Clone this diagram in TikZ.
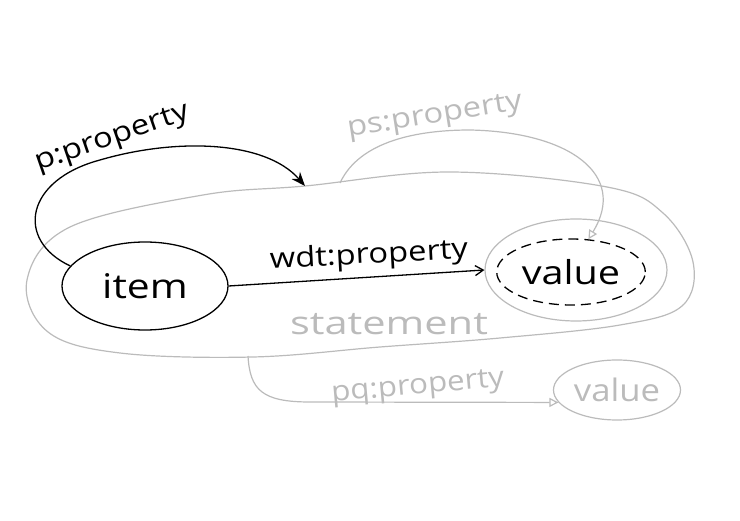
\documentclass[tikz,border=0pt]{standalone}
\usepackage{fontspec}
\usepackage{graphicx}
\setmainfont{Open Sans}
\usetikzlibrary{arrows.meta,shapes.geometric}
\definecolor{pale}{HTML}{BBBBBB}
\newcommand{\wide}[2]{\scalebox{#1}[1]{#2}}
\tikzset{
  ink/.style={line width=1.3pt,black},
  faint/.style={line width=1.2pt,pale},
  itemnode/.style={ellipse,draw,ink,minimum width=166pt,minimum height=88pt,font=\fontsize{34}{38}\selectfont},
  dashnode/.style={ellipse,draw,ink,dashed,dash pattern=on 10pt off 6pt,minimum width=137pt,minimum height=66pt,font=\fontsize{33}{37}\selectfont},
  ringnode/.style={ellipse,draw,faint,minimum width=182pt,minimum height=102pt},
  greyval/.style={ellipse,draw,faint,inner sep=0pt,minimum width=127pt,minimum height=60pt,text=pale,font=\fontsize{31}{35}\selectfont},
  lbl/.style={font=\fontsize{28}{32}\selectfont,inner sep=1pt},
  glbl/.style={lbl,text=pale},
  openhead/.style={-{Triangle[open,length=9pt,width=9pt]}},
  linehead/.style={-{Straight Barb[length=8pt,width=10pt]}},
  solidhead/.style={-{Stealth[length=14pt,width=11pt]}}
}
\begin{document}
\begin{tikzpicture}[x=1pt,y=-1pt]
\useasboundingbox (0,0) rectangle (740,521);
% statement blob
\draw[faint] plot[smooth cycle,tension=0.6] coordinates {(27,280) (70,227) (203,195) (305,186) (450,172) (607,187) (663,213) (693,262) (682,306) (620,325) (500,338) (380,347) (253,357) (120,353) (48,332)};
\coordinate (pTip) at (305,186);
\coordinate (psStart) at (340,183);
\coordinate (pqStart) at (248,356);
\node[text=pale,font=\fontsize{32}{36}\selectfont] (stmt) at (389,324) {\wide{1.3}{statement}};
% nodes
\node[itemnode] (item) at (145,286) {\wide{1.2}{item}};
\node[ringnode] (ring) at (576,270) {};
\node[dashnode] (val) at (571,272) {\wide{1.2}{value}};
\node[greyval] (val2) at (617,390) {\wide{1.12}{value}};
% p:property
\draw[ink,solidhead] (item.165) .. controls (15,240) and (25,180) .. (100,160) .. controls (175,138) and (265,140) .. (pTip);
\node[lbl,rotate=19] (plbl) at (113,139) {\wide{1.17}{p:property}};
% wdt:property
\draw[ink,linehead] (item.east) -- (ring.west);
\node[lbl,rotate=3] (wlbl) at (369,256) {\wide{1.17}{wdt:property}};
% ps:property
\draw[faint,openhead] (psStart) .. controls (360,140) and (420,130) .. (470,130) .. controls (570,132) and (628,175) .. (val.62);
\node[glbl,rotate=9] (pslbl) at (435,117) {\wide{1.17}{ps:property}};
% pq:property
\draw[faint,openhead] (pqStart) .. controls (250,390) and (262,402) .. (310,402) -- (val2.192);
\node[glbl,rotate=5] (pqlbl) at (418,388) {\wide{1.12}{pq:property}};
\end{tikzpicture}
\end{document}
